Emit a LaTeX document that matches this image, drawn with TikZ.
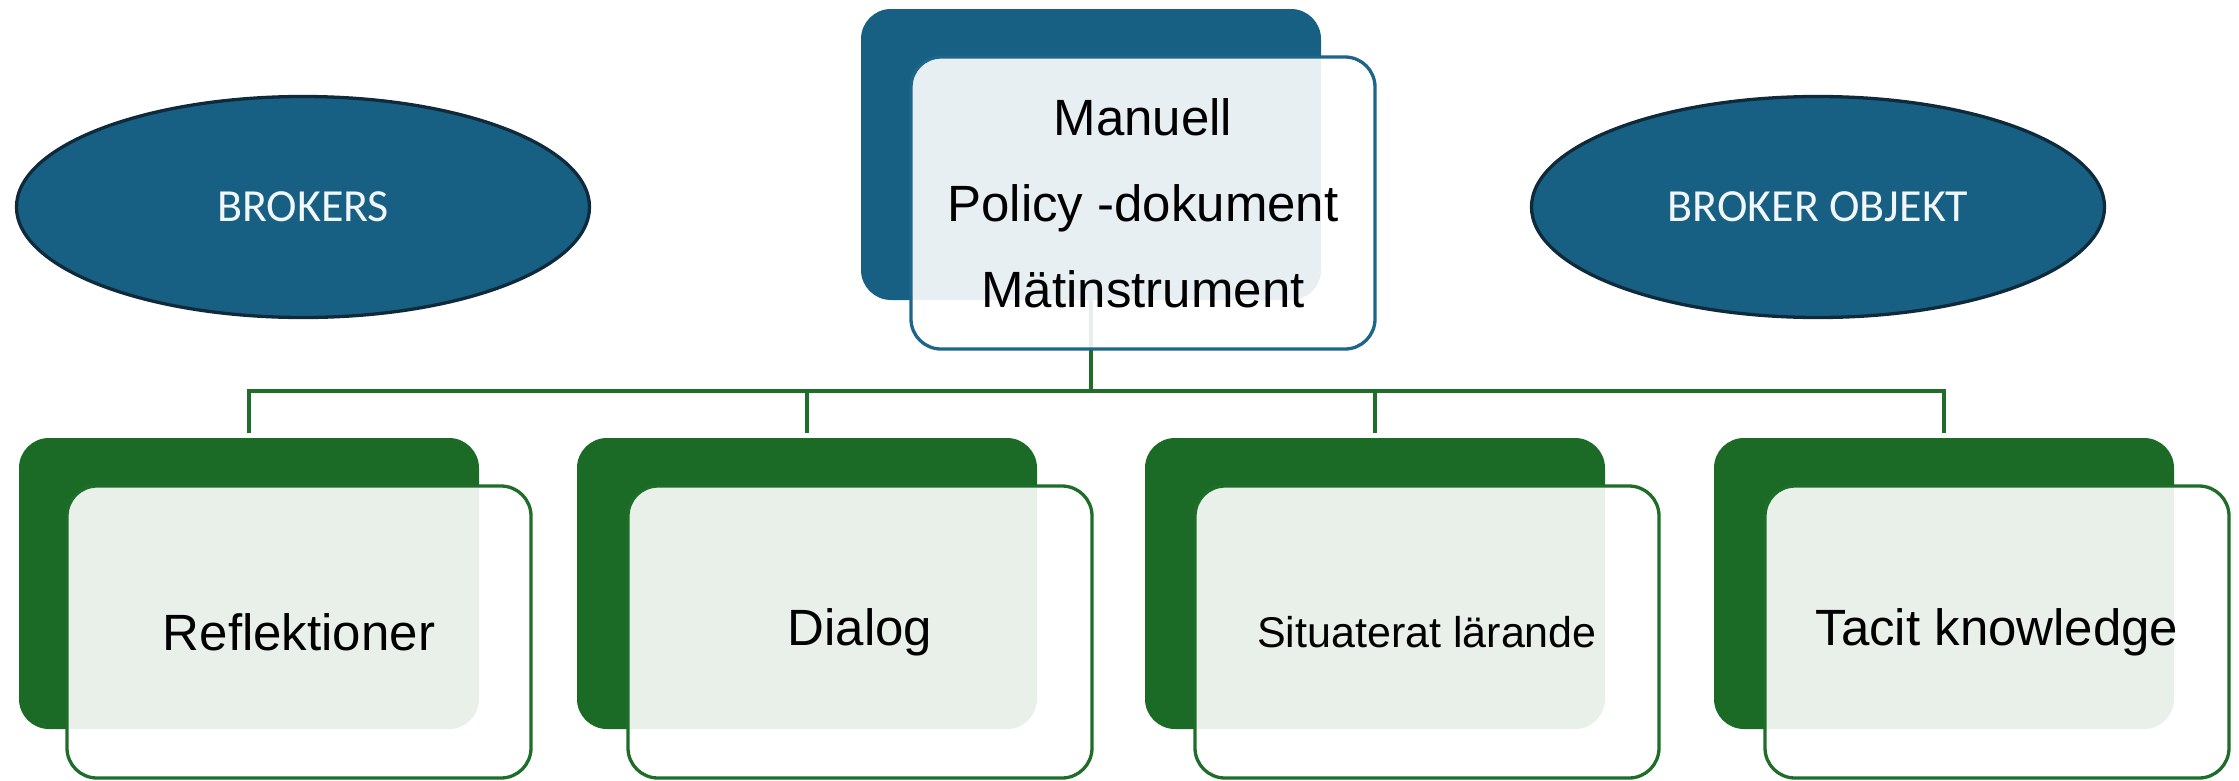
\documentclass[tikz,border=0pt]{standalone}
\usepackage{fontspec}
\setmainfont{Liberation Sans}
\newfontfamily\ellfont{Carlito}
\usetikzlibrary{shapes.geometric,backgrounds}
\definecolor{bluedark}{HTML}{186083}
\definecolor{blueline}{HTML}{1D6689}
\definecolor{ellborder}{HTML}{0E2A3B}
\definecolor{greendark}{HTML}{1B6B26}
\definecolor{greenline}{HTML}{1E6D29}
\begin{document}
\begin{tikzpicture}[x=1pt,y=-1pt,
  backbox/.style={rectangle, rounded corners=30pt, minimum width=460pt, minimum height=291pt,
    anchor=north west, inner sep=0pt, outer sep=0pt},
  frontbox/.style={rectangle, rounded corners=30pt, minimum width=464pt, minimum height=292pt,
    anchor=north west, fill=white, fill opacity=0.9, text opacity=1, line width=3.3pt,
    inner sep=0pt, outer sep=0pt, align=center, text=black},
  ell/.style={ellipse, minimum width=573pt, minimum height=221pt, inner sep=0pt,
    fill=bluedark, draw=ellborder, line width=3.3pt, text=white!94!bluedark,
    font=\ellfont\fontsize{46}{50}\selectfont},
  conn/.style={draw=greenline, line width=3.5pt},
  bigtext/.style={font=\fontsize{51}{86}\selectfont},
]
\useasboundingbox (0,0) rectangle (2239,780);

% ellipses
\node[ell] (brokers) at (303,207) {BROKERS};
\node[ell] (objekt) at (1818,207) {BROKER OBJEKT};

% top box
\node[backbox, fill=bluedark] (tdark) at (861,9) {};
\node[frontbox, draw=blueline, bigtext] (tfront) at (911,57)
  {Manuell\\Policy -dokument\\Mätinstrument};

% bottom boxes
\node[backbox, fill=greendark] (d1) at (19,438) {};
\node[frontbox, draw=greenline, bigtext] (f1) at (67,486) {Reflektioner};
\node[backbox, fill=greendark] (d2) at (577,438) {};
\node[frontbox, draw=greenline, bigtext] (f2) at (628,486) {Dialog};
\node[backbox, fill=greendark] (d3) at (1145,438) {};
\node[frontbox, draw=greenline, font=\fontsize{43}{50}\selectfont] (f3) at (1195,486) {Situaterat lärande};
\node[backbox, fill=greendark] (d4) at (1714,438) {};
\node[frontbox, draw=greenline, bigtext] (f4) at (1765,486) {Tacit knowledge};

\coordinate (bus) at (1091,391);

\begin{scope}[on background layer]
  \fill[white] (0,0) rectangle (2239,780);
  \draw[conn] (tdark.south) -- (tdark.south |- bus);
  \draw[conn, shorten <=5pt, shorten >=5pt] (d1.north) -- (d1.north |- bus)
    -- (d4.north |- bus) -- (d4.north);
  \draw[conn, shorten >=5pt] (d2.north |- bus) -- (d2.north);
  \draw[conn, shorten >=5pt] (d3.north |- bus) -- (d3.north);
\end{scope}
\end{tikzpicture}
\end{document}
